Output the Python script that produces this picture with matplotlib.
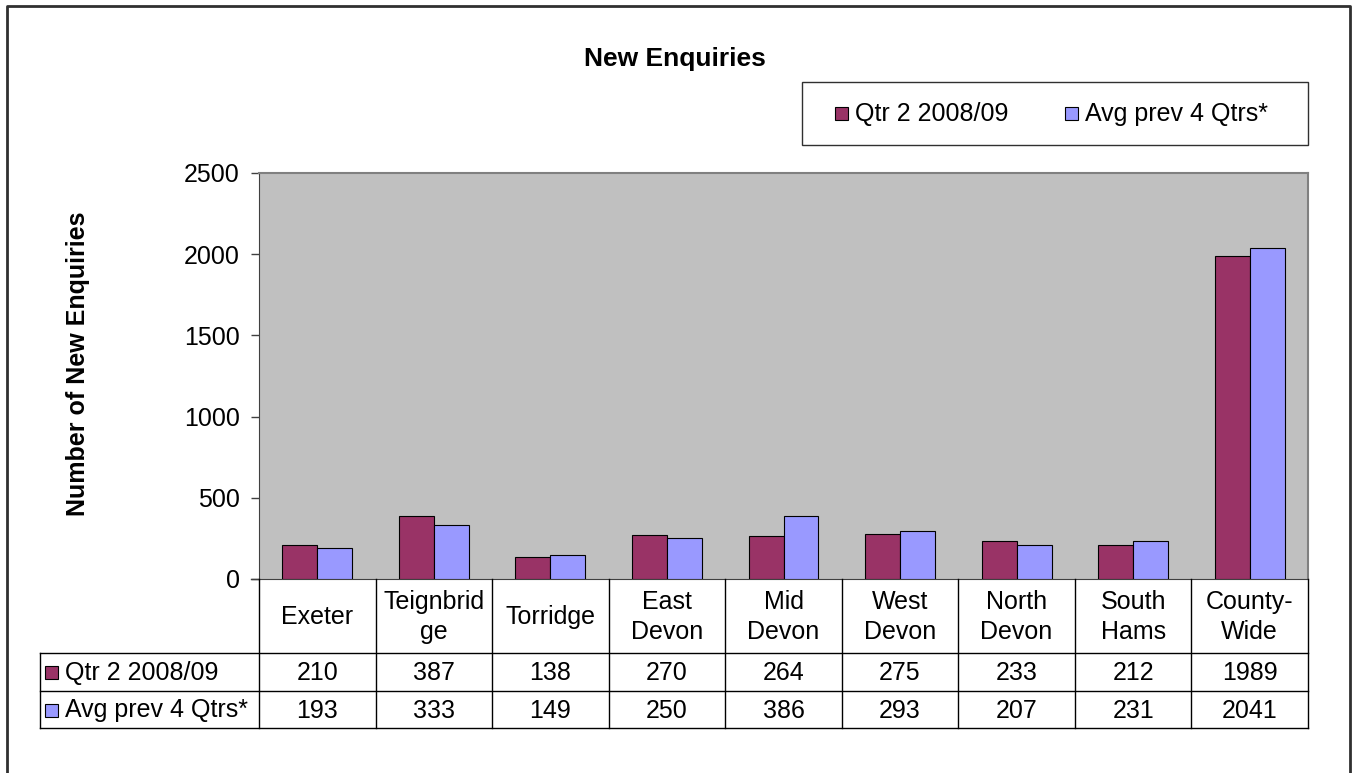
import matplotlib.pyplot as plt
from matplotlib.patches import Rectangle
import numpy as np

plt.rcParams['font.family'] = ['Liberation Sans', 'DejaVu Sans']

categories = ["Exeter", "Teignbrid\nge", "Torridge", "East\nDevon", "Mid\nDevon",
              "West\nDevon", "North\nDevon", "South\nHams", "County-\nWide"]
qtr2 = [210, 387, 138, 270, 264, 275, 233, 212, 1989]
avg_prev = [193, 333, 149, 250, 386, 293, 207, 231, 2041]
series_names = ["Qtr 2 2008/09", "Avg prev 4 Qtrs*"]
colors = ["#993366", "#9999FF"]

FS = 18
W, H = 1353, 773
fig = plt.figure(figsize=(W / 100, H / 100), dpi=100)

# plot area in pixel terms
px_l, px_r, px_t, px_b = 259, 1308, 173, 579
ax = fig.add_axes([px_l / W, 1 - px_b / H, (px_r - px_l) / W, (px_b - px_t) / H])
ax.set_facecolor("#C0C0C0")

x = np.arange(len(categories))
bw = 0.3
ax.bar(x - bw / 2, qtr2, bw, color=colors[0], edgecolor="black", linewidth=0.8, zorder=3)
ax.bar(x + bw / 2, avg_prev, bw, color=colors[1], edgecolor="black", linewidth=0.8, zorder=3)

ax.set_xlim(-0.5, len(categories) - 0.5)
ax.set_ylim(0, 2500)
ax.set_yticks(range(0, 2501, 500))
ax.set_yticklabels([str(v) for v in range(0, 2501, 500)], fontsize=FS)
ax.set_xticks([])
ax.tick_params(axis="y", direction="out", length=6, width=1, color="#404040", pad=8)
for side in ["top", "right"]:
    ax.spines[side].set_color("#808080")
    ax.spines[side].set_linewidth(1.5)
ax.spines["left"].set_color("#404040")
ax.spines["bottom"].set_color("#404040")

# overlay in pixel coordinates for frame, title, legend and data table
ov = fig.add_axes([0, 0, 1, 1], facecolor="none")
ov.set_xlim(0, W)
ov.set_ylim(H, 0)
ov.axis("off")

ov.plot([7, 7, 1350, 1350], [H + 5, 6, 6, H + 5], color="#303030", lw=2)
ov.text(675, 59, "New Enquiries", fontsize=19, fontweight="bold", ha="center", va="center")
ov.text(78, 364, "Number of New Enquiries", fontsize=FS, fontweight="bold",
        rotation=90, ha="center", va="center")

# legend box
ov.add_patch(Rectangle((802, 82), 506, 63, fill=False, edgecolor="#303030", lw=1))
for (sx, name), c in zip([(835, series_names[0]), (1065, series_names[1])], colors):
    ov.add_patch(Rectangle((sx, 107), 13, 13, facecolor=c, edgecolor="black", lw=0.8))
    ov.text(sx + 20, 114, name, fontsize=FS, va="center", ha="left")

# data table: column edges follow the category positions on the x axis
def to_px(xv):
    return fig.transFigure.inverted().transform(ax.transData.transform((xv, 0)))[0] * W

edges = [to_px(v) for v in np.arange(-0.5, len(categories), 1.0)]
centers = [to_px(v) for v in x]
hdr_bot, r1_bot, r2_bot = 653, 691, 728
lc = "black"
ov.plot([251, px_l], [px_b, px_b], color="#404040", lw=1)
for e in edges:
    ov.plot([e, e], [px_b, r2_bot], color=lc, lw=1)
ov.plot([40, 40], [hdr_bot, r2_bot], color=lc, lw=1)
for yy in [hdr_bot, r1_bot, r2_bot]:
    ov.plot([40, edges[-1]], [yy, yy], color=lc, lw=1)

for cx, cat in zip(centers, categories):
    ov.text(cx, (px_b + hdr_bot) / 2 + 1, cat, fontsize=FS, ha="center", va="center",
            linespacing=1.3)

rows = [qtr2, avg_prev]
row_mid = [(hdr_bot + r1_bot) / 2, (r1_bot + r2_bot) / 2]
for vals, name, c, ym in zip(rows, series_names, colors, row_mid):
    ov.add_patch(Rectangle((45, ym - 6), 13, 13, facecolor=c, edgecolor="black", lw=0.8))
    ov.text(65, ym + 1, name, fontsize=FS, ha="left", va="center")
    for cx, v in zip(centers, vals):
        ov.text(cx, ym + 1, str(v), fontsize=FS, ha="center", va="center")

fig.savefig("out.png", dpi=100)
